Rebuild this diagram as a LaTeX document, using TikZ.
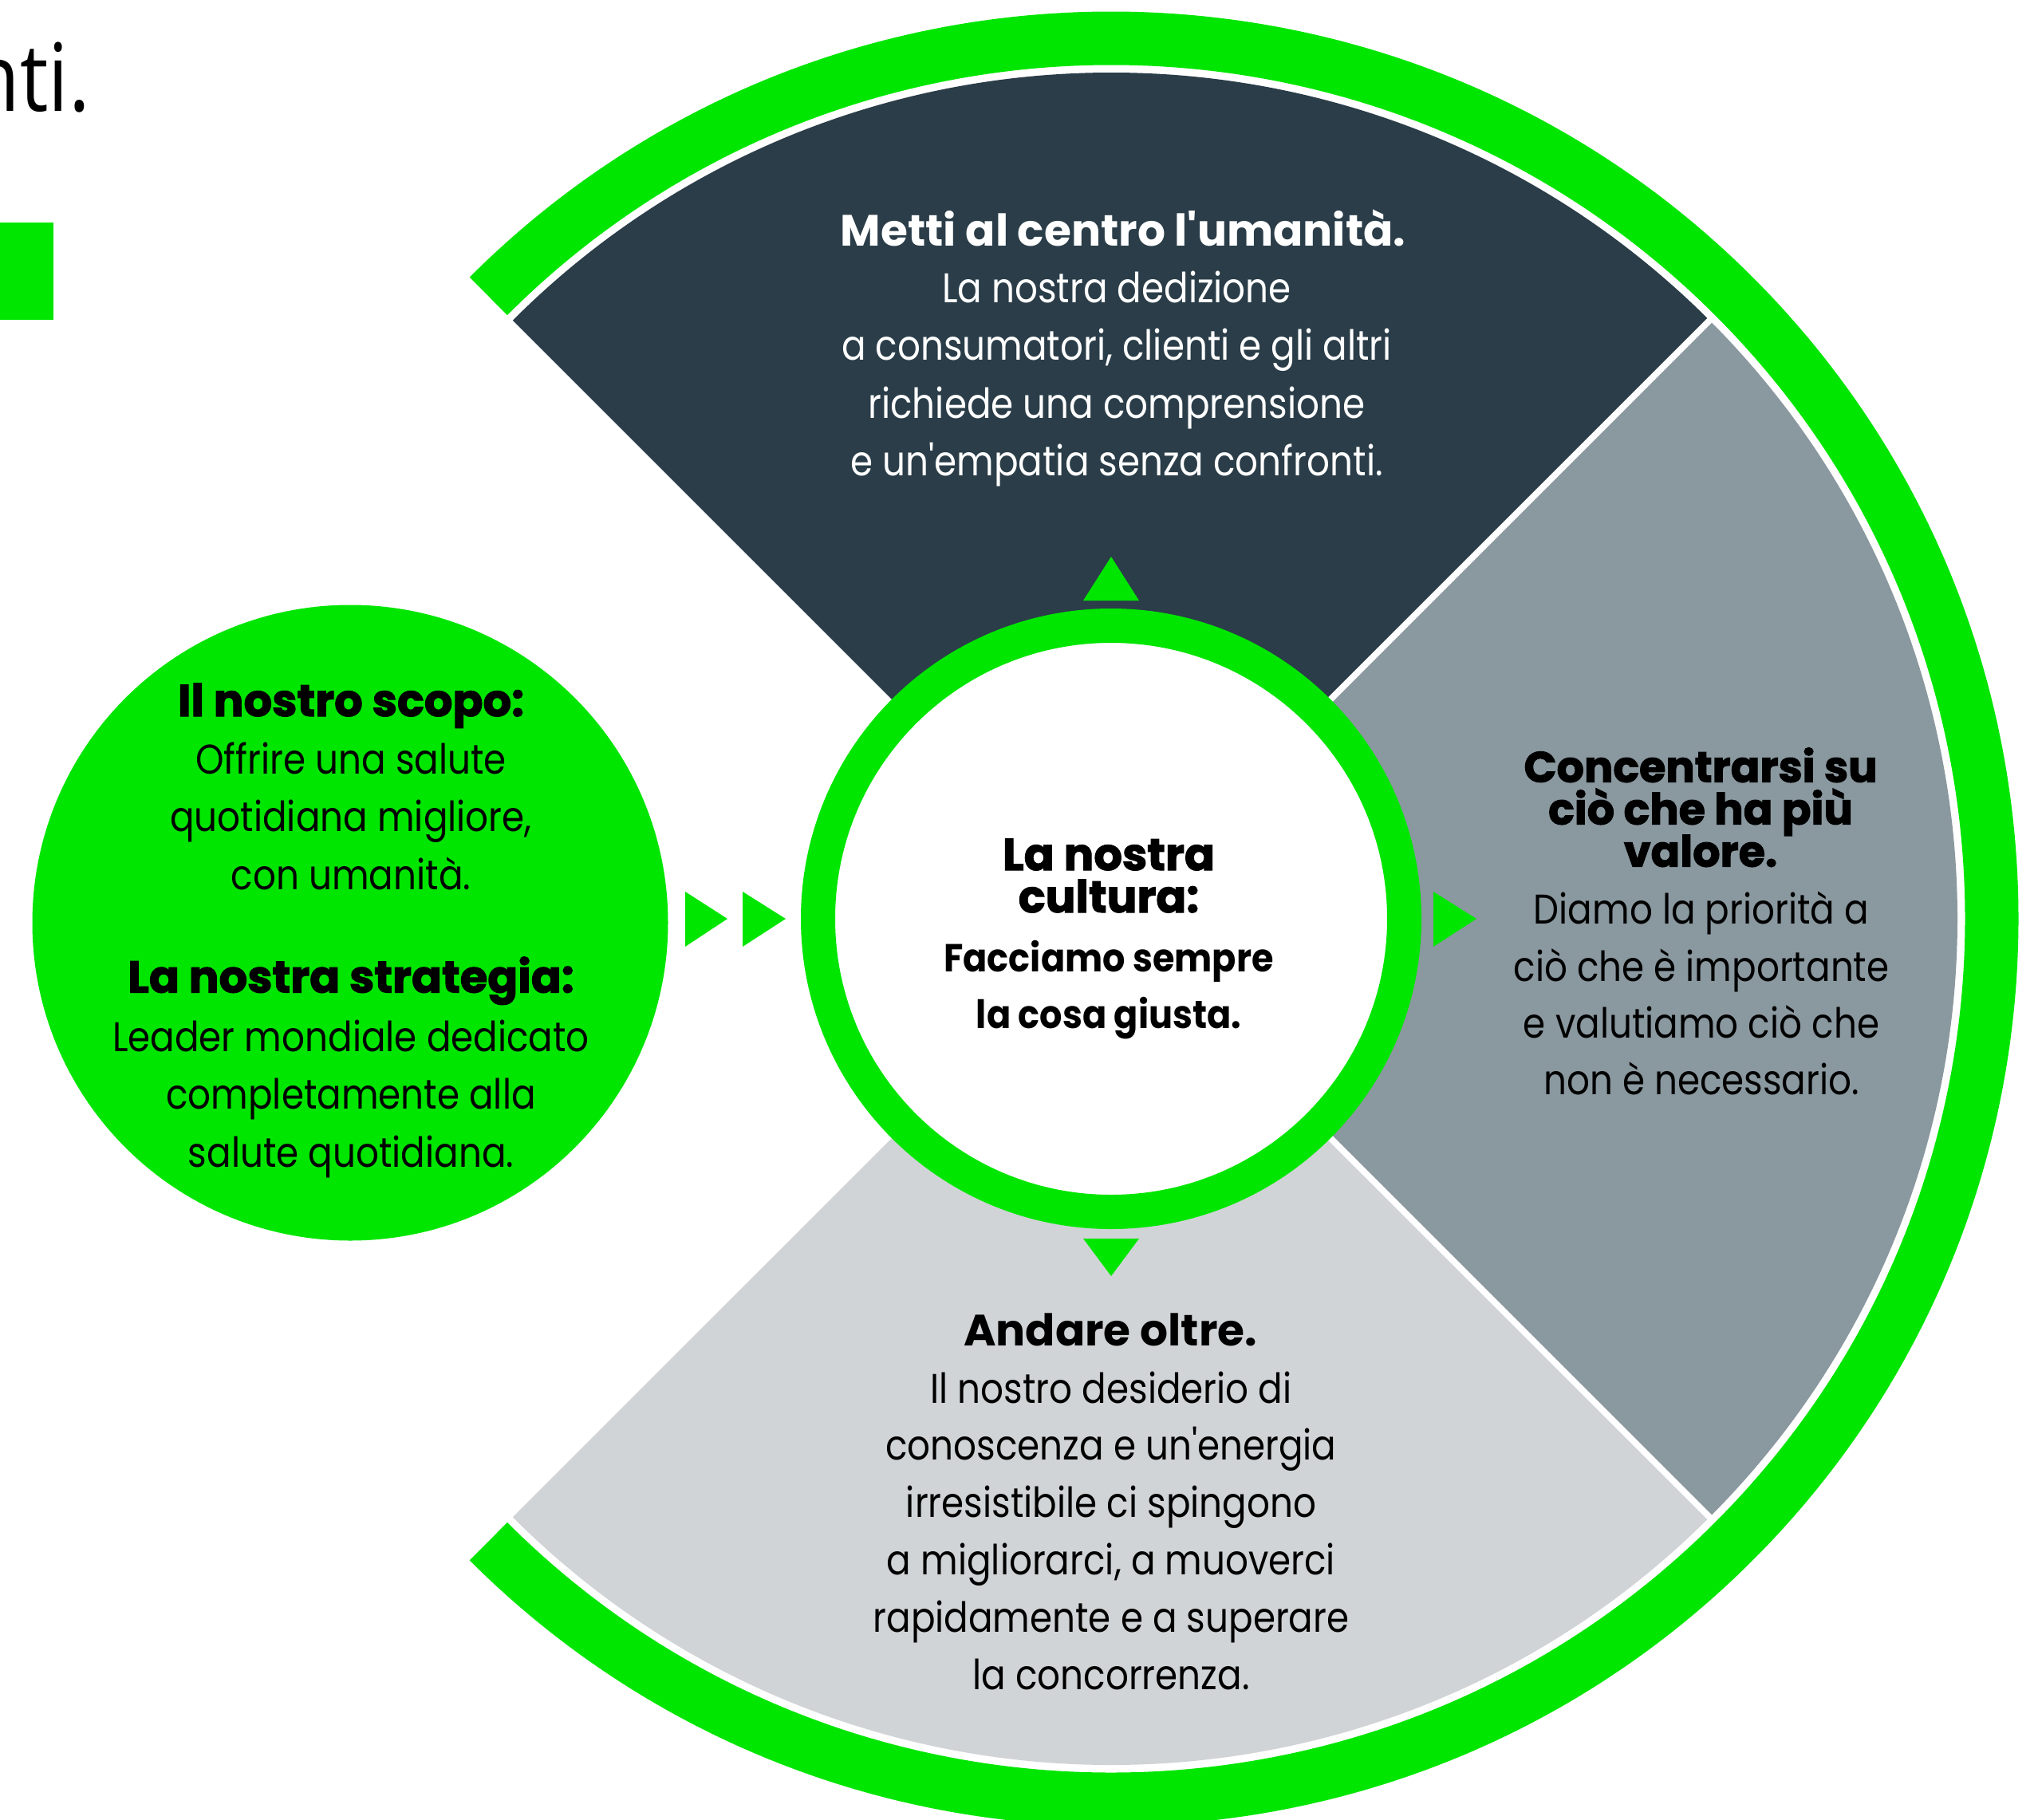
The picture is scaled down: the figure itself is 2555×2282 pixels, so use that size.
\documentclass[tikz,border=0pt]{standalone}
\usepackage{fontspec}
\setmainfont{Poppins}
\newfontfamily\bodyf{Poppins}[FakeStretch=0.87]
\newfontfamily\heavyf{Poppins}[BoldFeatures={FakeBold=2}]
\newfontfamily\semif{Poppins}
\newfontfamily\medf{Poppins}[FakeStretch=0.91]
\newfontfamily\titlef{Open Sans}[FakeStretch=0.85]
\usetikzlibrary{calc}
\definecolor{grn}{HTML}{00E600}
\definecolor{darksec}{HTML}{2A3D48}
\definecolor{midsec}{HTML}{8A989F}
\definecolor{litesec}{HTML}{D0D4D6}
\newcommand\txtblock[1]{\vtop{\lineskiplimit=-1000pt\lineskip=0pt\halign{\hfil##\hfil\cr#1\crcr}}}
\tikzset{
  txt/.style={anchor=base, inner sep=0pt, outer sep=0pt},
  bodytxt/.style={txt, font=\bodyf\fontsize{52}{72.5}\selectfont},
  heavytxt/.style={txt, font=\heavyf\fontsize{56}{53}\selectfont\bfseries},
  semitxt/.style={txt, font=\semif\fontsize{55}{72}\selectfont\bfseries},
  tri/.style={fill=grn},
}
\begin{document}
\begin{tikzpicture}[x=1pt,y=-1pt]
\useasboundingbox (0,0) rectangle (2555,2282);
\fill[white] (0,0) rectangle (2555,2282);
\coordinate (C) at (1393,1152);

% outer green ring
\draw[grn, line width=67pt] ($(C)+(225:1104)$) arc[start angle=225, end angle=495, radius=1104];

% sectors
\fill[darksec] (C) -- ($(C)+(225:1061)$) arc[start angle=225, end angle=315, radius=1061] -- cycle;
\fill[midsec] (C) -- ($(C)+(315:1061)$) arc[start angle=315, end angle=405, radius=1061] -- cycle;
\fill[litesec] (C) -- ($(C)+(45:1061)$) arc[start angle=45, end angle=135, radius=1061] -- cycle;
\coordinate (s1) at ($(C)+(315:1066)$);
\coordinate (s2) at ($(C)+(45:1066)$);
\draw[white, line width=8pt] (C) -- (s1);
\draw[white, line width=8pt] (C) -- (s2);

% centre circle
\node[circle, draw=grn, line width=43pt, fill=white, minimum size=735pt, inner sep=0pt] (culture) at (C) {};

% triangles round the centre
\fill[tri] (1358,753) -- (1428,753) -- (1393,698) -- cycle;
\fill[tri] (1358,1553) -- (1428,1553) -- (1393,1600) -- cycle;
\fill[tri] (1797,1118) -- (1797,1187) -- (1851,1152) -- cycle;
\fill[tri] (859,1118) -- (859,1187) -- (912,1152) -- cycle;
\fill[tri] (931,1118) -- (931,1187) -- (985,1152) -- cycle;

% left circle
\node[circle, fill=grn, minimum size=797pt, inner sep=0pt] (purpose) at (439,1157) {};

% top-left fragments
\fill[grn] (0,279) rectangle (67,401);
\node[txt, anchor=base east, font=\titlef\fontsize{118}{130}\selectfont] (title) at (113,140) {nti.};

% left circle texts
\node[heavytxt] (scopoh) at (440,898) {Il nostro scopo:};
\node[bodytxt] (scopob) at (440,970) {\txtblock{Offrire una salute\cr quotidiana migliore,\cr con umanità.}};
\node[heavytxt] (strath) at (440,1244.5) {La nostra strategia:};
\node[bodytxt] (stratb) at (440,1318) {\txtblock{Leader mondiale dedicato\cr completamente alla\cr salute quotidiana.}};

% centre texts
\node[heavytxt] (culth) at (1390,1091) {\txtblock{La nostra\cr cultura:}};
\node[txt, font=\medf\fontsize{49}{71}\selectfont\bfseries] (cultb) at (1390,1218) {\txtblock{Facciamo sempre\cr la cosa giusta.}};

% top sector texts
\node[semitxt, text=white] (toph) at (1408,308) {Metti al centro l'umanità.};
\node[bodytxt, text=white] (topb) at (1400,379) {\txtblock{La nostra dedizione\cr a consumatori, clienti e gli altri\cr richiede una comprensione\cr e un'empatia senza confronti.}};

% right sector texts
\node[heavytxt, font=\heavyf\fontsize{54}{53}\selectfont\bfseries] (righth) at (2132,980.6) {\txtblock{Concentrarsi su\cr ciò che ha più\cr valore.}};
\node[bodytxt, font=\bodyf\fontsize{52}{71.3}\selectfont] (rightb) at (2133,1158.7) {\txtblock{Diamo la priorità a\cr ciò che è importante\cr e valutiamo ciò che\cr non è necessario.}};

% bottom sector texts
\node[semitxt] (both) at (1392,1687.6) {Andare oltre.};
\node[bodytxt, font=\bodyf\fontsize{52}{71.9}\selectfont] (botb) at (1393,1759) {\txtblock{Il nostro desiderio di\cr conoscenza e un'energia\cr irresistibile ci spingono\cr a migliorarci, a muoverci\cr rapidamente e a superare\cr la concorrenza.}};
\end{tikzpicture}
\end{document}
